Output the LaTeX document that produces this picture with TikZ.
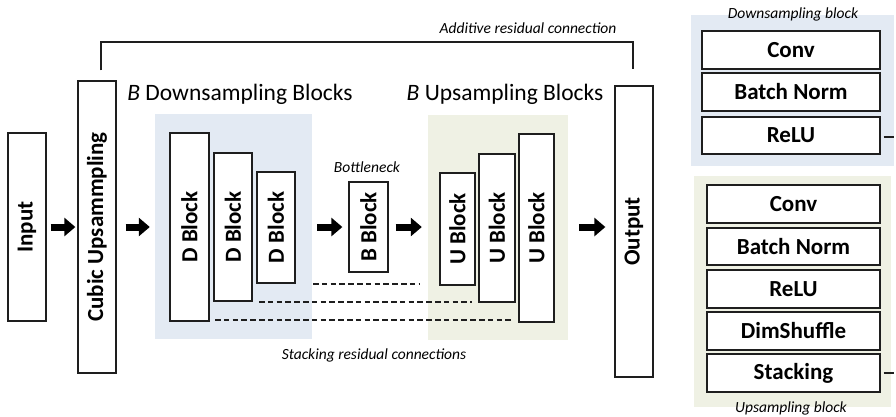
\documentclass[tikz,border=0pt]{standalone}
\usepackage{fontspec}
\setmainfont{Carlito}
\usepackage{graphicx}
\usetikzlibrary{arrows.meta,calc}
\definecolor{dsblue}{RGB}{227,234,243}
\definecolor{usgreen}{RGB}{239,241,228}
\definecolor{edge}{RGB}{30,30,30}
\tikzset{
  blk/.style={draw=edge, line width=1.3pt, fill=white, rectangle, inner sep=0pt,
    font=\fontsize{23}{25}\selectfont\bfseries},
  region/.style={rectangle, inner sep=0pt, draw=none},
  bigarrow/.style={line width=7pt, -{Triangle[length=11pt,width=18pt]}, black},
  title/.style={font=\fontsize{23.5}{25}\selectfont, inner sep=0pt},
  note/.style={font=\fontsize{15.5}{17}\selectfont\itshape, inner sep=0pt},
  stackline/.style={dash pattern=on 5.5pt off 3.3pt, line width=1.2pt, edge},
}
\begin{document}
\begin{tikzpicture}[x=1pt,y=-1pt]
\useasboundingbox (0,0) rectangle (896,416);
% regions
\node[region, fill=dsblue, minimum width=157pt, minimum height=225pt] (dsreg) at (233.5,226.5) {};
\node[region, fill=usgreen, minimum width=140pt, minimum height=225pt] (usreg) at (498,227.5) {};
\node[region, fill=dsblue, minimum width=203pt, minimum height=151pt] (dsdet) at (792.5,90.5) {};
\node[region, fill=usgreen, minimum width=197pt, minimum height=231pt] (usdet) at (792.5,291.5) {};
% main blocks
\node[blk, minimum width=38pt, minimum height=188pt] (input) at (27,227) {\rotatebox{90}{Input}};
\node[blk, minimum width=38pt, minimum height=292pt] (cubic) at (97,227) {\rotatebox{90}{Cubic Upsammpling}};
\node[blk, minimum width=39pt, minimum height=188pt] (d1) at (189.5,227) {\rotatebox{90}{D Block}};
\node[blk, minimum width=38pt, minimum height=148pt] (d2) at (233,227) {\rotatebox{90}{D Block}};
\node[blk, minimum width=38pt, minimum height=111pt] (d3) at (276,227.5) {\rotatebox{90}{D Block}};
\node[blk, minimum width=39pt, minimum height=90pt] (bb) at (368.5,227) {\rotatebox{90}{B Block}};
\node[blk, minimum width=35pt, minimum height=112pt] (u1) at (457.5,229) {\rotatebox{90}{U Block}};
\node[blk, minimum width=36pt, minimum height=148pt] (u2) at (497,228) {\rotatebox{90}{U Block}};
\node[blk, minimum width=35pt, minimum height=188pt] (u3) at (536.5,228) {\rotatebox{90}{U Block}};
\node[blk, minimum width=38pt, minimum height=291pt] (output) at (634,231.5) {\rotatebox{90}{Output}};
% titles and notes
\node[title] (dstitle) at (240,94) {\textit{B} Downsampling Blocks};
\node[title] (ustitle) at (505,94) {\textit{B} Upsampling Blocks};
\node[note] (bneck) at (367,167) {Bottleneck};
\node[note] (addnote) at (528,28) {Additive residual connection};
\node[note] (stacknote) at (374,355) {Stacking residual connections};
\node[note] (dsnote) at (793,14) {Downsampling block};
\node[note] (usnote) at (791,408) {Upsampling block};
% arrows
\draw[bigarrow, shorten <=4pt, shorten >=2pt] (input.east) -- (cubic.west |- input.east);
\draw[bigarrow, shorten <=9pt, shorten >=5pt] (cubic.east |- input.east) -- (dsreg.west |- input.east);
\draw[bigarrow, shorten <=5pt, shorten >=6pt] (dsreg.east |- input.east) -- (bb.west);
\draw[bigarrow, shorten <=7pt, shorten >=6pt] (bb.east) -- (usreg.west |- bb.east);
\draw[bigarrow, shorten <=11pt, shorten >=9pt] (usreg.east |- bb.east) -- (output.west |- bb.east);
% additive residual connection
\coordinate (addL) at ($(cubic.north)+(4,-10)$);
\coordinate (addR) at ($(output.north)+(-1,-16)$);
\draw[line width=2pt, edge] (addL) -- ++(0,-28) -| (addR);
% stacking residual connections
\coordinate (s1a) at (313,284); \coordinate (s1b) at (419,284);
\coordinate (s2a) at (259,302); \coordinate (s2b) at (472,302);
\coordinate (s3a) at (215,320); \coordinate (s3b) at (512,320);
\draw[stackline] (s1a) -- (s1b);
\draw[stackline] (s2a) -- (s2b);
\draw[stackline] (s3a) -- (s3b);
% detail: downsampling block
\node[blk, minimum width=178pt, minimum height=38pt] (dconv) at (791,50) {Conv};
\node[blk, minimum width=178pt, minimum height=38pt] (dbn) at (791,92) {Batch Norm};
\node[blk, minimum width=178pt, minimum height=37pt] (drelu) at (791,135.5) {ReLU};
% detail: upsampling block
\node[blk, minimum width=173pt, minimum height=38pt] (uconv) at (793.5,204) {Conv};
\node[blk, minimum width=173pt, minimum height=37pt] (ubn) at (793.5,246.5) {Batch Norm};
\node[blk, minimum width=173pt, minimum height=38pt] (urelu) at (793.5,289) {ReLU};
\node[blk, minimum width=173pt, minimum height=38pt] (udim) at (793.5,331) {DimShuffle};
\node[blk, minimum width=173pt, minimum height=38pt] (ustack) at (793.5,373) {Stacking};
\draw[line width=1.5pt, edge] ($(drelu.east)+(3,1.5)$) -- ++(10,0);
\draw[line width=1.5pt, edge] ($(ustack.east)+(3,0)$) -- ++(10,0);
\end{tikzpicture}
\end{document}
